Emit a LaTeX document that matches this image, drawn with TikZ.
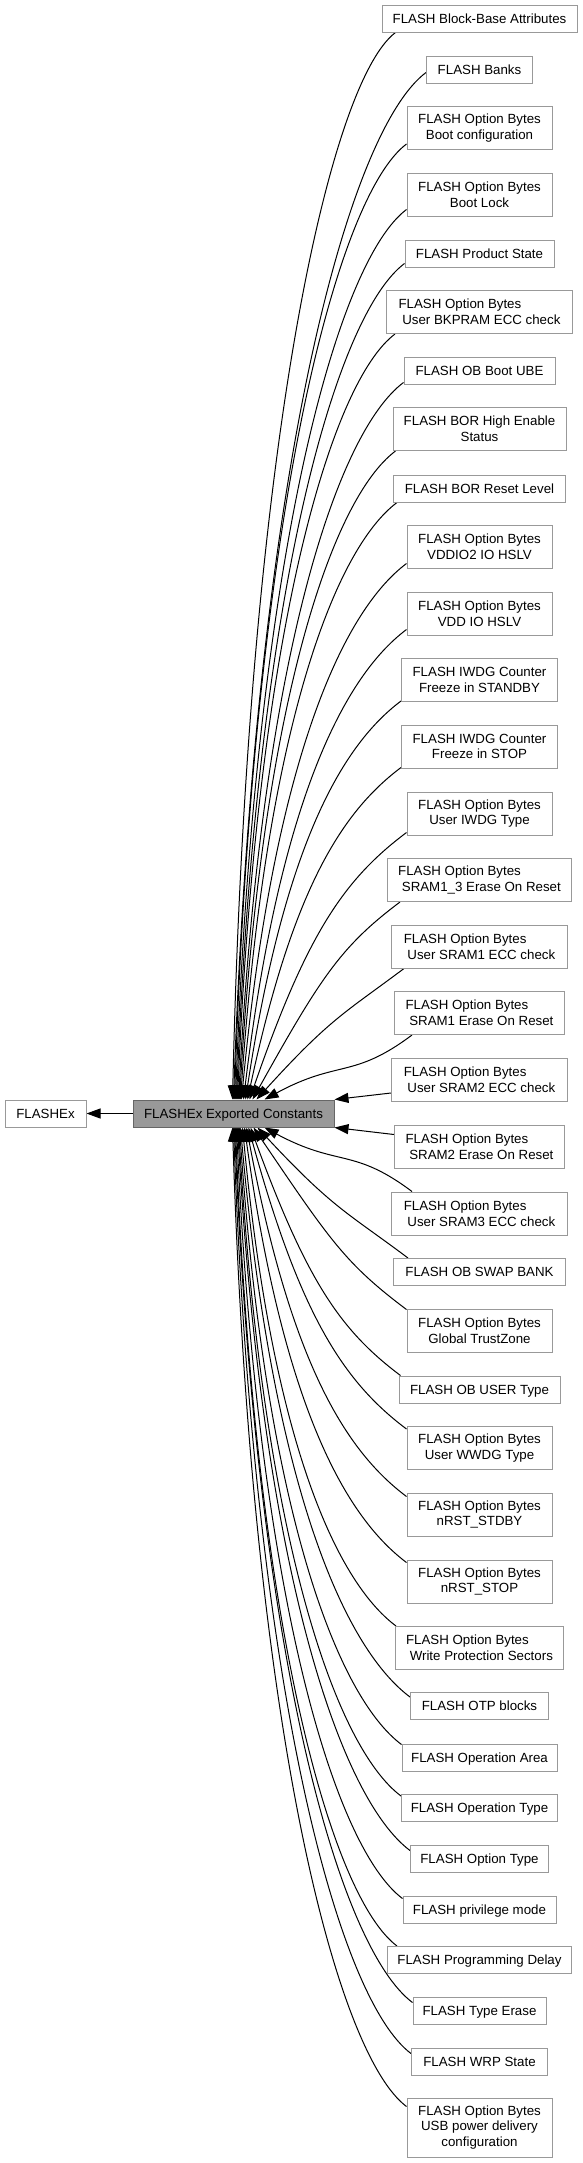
\documentclass[tikz,border=0pt]{standalone}
\usepackage{fontspec}
\setmainfont{Liberation Sans}
\usetikzlibrary{arrows.meta,calc}
\pgfdeclarelayer{bg}
\pgfsetlayers{bg,main}
\definecolor{gsixty}{HTML}{999999}
\definecolor{gforty}{HTML}{666666}
\tikzset{
  box/.style={draw=gsixty, fill=white, line width=1pt, inner sep=0pt,
    font=\fontsize{13.3}{15.7}\selectfont, align=center, minimum height=27pt},
  one/.style={text height=9.5pt, text depth=0pt},
  two/.style={minimum height=43pt},
  three/.style={minimum height=59pt},
  lft/.style={align=left},
  cur/.style={draw=gforty, fill=gsixty},
  edge/.style={draw=black, line width=1pt, -{Triangle[length=14pt,width=10pt]}},
}
\newcommand{\fan}[3]{%
  \draw[edge] let \p1=(#1), \p2=(#2),
    \n1={abs(\x1-\x2)}, \n2={abs(\y1-\y2)},
    \n4={0.62*\n2}, \n5={min(0.5*\n1,\n4*(\n1/\n2)*(\n1/\n2))} in
    (\p1) .. controls ({\x1-0.4*\n1},{\y1+(#3)*0.3*\n1}) and ({\x2+\n5},{\y2-(#3)*\n4}) .. (\p2);}
\begin{document}
\begin{tikzpicture}[x=1pt,y=-1pt]
\useasboundingbox (0,0) rectangle (582,2163);
% central nodes
\node[box, one, minimum width=81pt] (flashex) at (45.5,1113.5) {FLASHEx};
\node[box, one, cur, minimum width=201pt] (main) at (233.5,1113.5) {FLASHEx Exported Constants};
% right column
\node[box, one, minimum width=195pt] (n1) at (479.5,18.5) {FLASH Block-Base Attributes};
\node[box, one, minimum width=106pt] (n2) at (479.5,69.5) {FLASH Banks};
\node[box, two, minimum width=145pt] (n3) at (479.5,128) {FLASH Option Bytes\\ Boot configuration};
\node[box, two, minimum width=145pt] (n4) at (479.5,194.5) {FLASH Option Bytes\\ Boot Lock};
\node[box, one, minimum width=149pt] (n5) at (479.5,253.5) {FLASH Product State};
\node[box, two, lft, minimum width=186pt] (n6) at (479.5,312) {FLASH Option Bytes\\\ User BKPRAM ECC check};
\node[box, one, minimum width=151pt] (n7) at (479.5,370.5) {FLASH OB Boot UBE};
\node[box, two, minimum width=173pt] (n8) at (479.5,429) {FLASH BOR High Enable\\Status};
\node[box, one, minimum width=172pt] (n9) at (479.5,488.5) {FLASH BOR Reset Level};
\node[box, two, minimum width=145pt] (n10) at (479.5,546.5) {FLASH Option Bytes\\ VDDIO2 IO HSLV};
\node[box, two, minimum width=145pt] (n11) at (479.5,613.5) {FLASH Option Bytes\\ VDD IO HSLV};
\node[box, two, minimum width=156pt] (n12) at (479.5,680) {FLASH IWDG Counter\\ Freeze in STANDBY};
\node[box, two, minimum width=156pt] (n13) at (479.5,746.5) {FLASH IWDG Counter\\ Freeze in STOP};
\node[box, two, minimum width=145pt] (n14) at (479.5,813.5) {FLASH Option Bytes\\ User IWDG Type};
\node[box, two, lft, minimum width=184pt] (n15) at (479.5,880) {FLASH Option Bytes\\\ SRAM1\_3 Erase On Reset};
\node[box, two, lft, minimum width=176pt] (n16) at (479.5,946.5) {FLASH Option Bytes\\\ User SRAM1 ECC check};
\node[box, two, lft, minimum width=170pt] (n17) at (479.5,1013) {FLASH Option Bytes\\\ SRAM1 Erase On Reset};
\node[box, two, lft, minimum width=176pt] (n18) at (479.5,1080) {FLASH Option Bytes\\\ User SRAM2 ECC check};
\node[box, two, lft, minimum width=170pt] (n19) at (479.5,1146.5) {FLASH Option Bytes\\\ SRAM2 Erase On Reset};
\node[box, two, lft, minimum width=176pt] (n20) at (479.5,1213.5) {FLASH Option Bytes\\\ User SRAM3 ECC check};
\node[box, one, minimum width=172pt] (n21) at (479.5,1272) {FLASH OB SWAP BANK};
\node[box, two, minimum width=145pt] (n22) at (479.5,1330.5) {FLASH Option Bytes\\ Global TrustZone};
\node[box, one, minimum width=161pt] (n23) at (479.5,1389.5) {FLASH OB USER Type};
\node[box, two, minimum width=145pt] (n24) at (479.5,1448) {FLASH Option Bytes\\ User WWDG Type};
\node[box, two, minimum width=145pt] (n25) at (479.5,1514.5) {FLASH Option Bytes\\ nRST\_STDBY};
\node[box, two, minimum width=145pt] (n26) at (479.5,1581.5) {FLASH Option Bytes\\ nRST\_STOP};
\node[box, two, lft, minimum width=168pt] (n27) at (479.5,1648) {FLASH Option Bytes\\\ Write Protection Sectors};
\node[box, one, minimum width=138pt] (n28) at (479.5,1706) {FLASH OTP blocks};
\node[box, one, minimum width=155pt] (n29) at (479.5,1757.5) {FLASH Operation Area};
\node[box, one, minimum width=156pt] (n30) at (479.5,1808) {FLASH Operation Type};
\node[box, one, minimum width=138pt] (n31) at (479.5,1858.5) {FLASH Option Type};
\node[box, one, minimum width=153pt] (n32) at (479.5,1909.5) {FLASH privilege mode};
\node[box, one, minimum width=184pt] (n33) at (479.5,1960) {FLASH Programming Delay};
\node[box, one, minimum width=133pt] (n34) at (479.5,2010.5) {FLASH Type Erase};
\node[box, one, minimum width=136pt] (n35) at (479.5,2061.5) {FLASH WRP State};
\node[box, three, minimum width=145pt] (n36) at (479.5,2127.5) {FLASH Option Bytes\\USB power delivery\\configuration};
\begin{pgfonlayer}{bg}
\draw[edge] (main.west) -- (flashex.east);
% upper fan
\fan{$(n1.south west)+(14,0)$}{$(main.north west)+(100,0)$}{-1}
\fan{$(n2.south west)+(0,-11)$}{$(main.north west)+(101,0)$}{-1}
\fan{$(n3.south west)+(0,-6)$}{$(main.north west)+(102,0)$}{-1}
\fan{$(n4.south west)+(0,-7)$}{$(main.north west)+(103,0)$}{-1}
\fan{$(n5.south west)+(0,-4)$}{$(main.north west)+(104,0)$}{-1}
\fan{$(n6.south west)+(9,0)$}{$(main.north west)+(105,0)$}{-1}
\fan{$(n7.south west)+(0,-2)$}{$(main.north west)+(106,0)$}{-1}
\fan{$(n8.south west)+(3,0)$}{$(main.north west)+(107,0)$}{-1}
\fan{$(n9.south west)+(4,0)$}{$(main.north west)+(108,0)$}{-1}
\fan{$(n10.south west)+(0,-5)$}{$(main.north west)+(109,0)$}{-1}
\fan{$(n11.south west)+(0,-6)$}{$(main.north west)+(111,0)$}{-1}
\fan{$(n12.south west)+(0,-1)$}{$(main.north west)+(113,0)$}{-1}
\fan{$(n13.south west)+(0,-1)$}{$(main.north west)+(115,0)$}{-1}
\fan{$(n14.south west)+(0,-3)$}{$(main.north west)+(117,0)$}{-1}
\fan{$(n15.south west)+(13,0)$}{$(main.north west)+(120,0)$}{-1}
\fan{$(n16.south west)+(13,0)$}{$(main.north west)+(124,0)$}{-1}
\fan{$(n17.south west)+(18,0)$}{$(main.north west)+(132,0)$}{-1}
\draw[edge] ($(n18.south west)+(0,-9)$) -- (main.north east);
\draw[edge] ($(n19.north west)+(0,10)$) -- (main.south east);
% lower fan
\fan{$(n20.north west)+(21,0)$}{$(main.south west)+(132,0)$}{1}
\fan{$(n21.north west)+(15,0)$}{$(main.south west)+(125,0)$}{1}
\fan{$(n22.north west)+(0,1)$}{$(main.south west)+(121,0)$}{1}
\fan{$(n23.north west)+(2,0)$}{$(main.south west)+(118,0)$}{1}
\fan{$(n24.north west)+(0,3)$}{$(main.south west)+(116,0)$}{1}
\fan{$(n25.north west)+(0,4)$}{$(main.south west)+(114,0)$}{1}
\fan{$(n26.north west)+(0,3)$}{$(main.south west)+(112,0)$}{1}
\fan{$(n27.north west)+(1,0)$}{$(main.south west)+(110,0)$}{1}
\fan{$(n28.north west)+(0,5)$}{$(main.south west)+(108,0)$}{1}
\fan{$(n29.north west)+(0,1)$}{$(main.south west)+(107,0)$}{1}
\fan{$(n30.north west)+(0,2)$}{$(main.south west)+(106,0)$}{1}
\fan{$(n31.north west)+(0,6)$}{$(main.south west)+(105,0)$}{1}
\fan{$(n32.north west)+(0,3)$}{$(main.south west)+(104,0)$}{1}
\fan{$(n33.north west)+(10,0)$}{$(main.south west)+(103,0)$}{1}
\fan{$(n34.north west)+(0,6)$}{$(main.south west)+(102,0)$}{1}
\fan{$(n35.north west)+(0,6)$}{$(main.south west)+(101,0)$}{1}
\fan{$(n36.north west)+(0,9)$}{$(main.south west)+(100,0)$}{1}
\end{pgfonlayer}
\end{tikzpicture}
\end{document}
